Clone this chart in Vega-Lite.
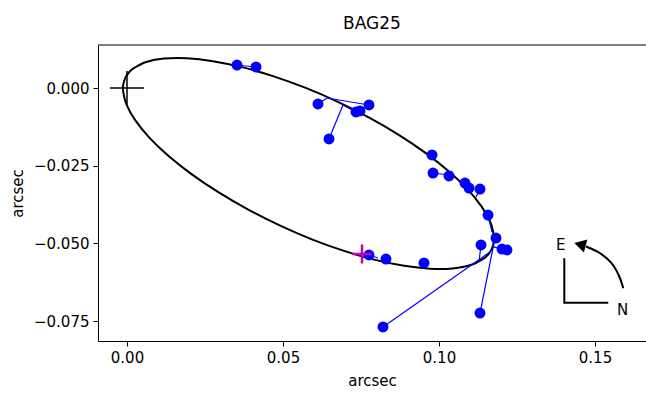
{
  "$schema": "https://vega.github.io/schema/vega-lite/v6.json",
  "autosize": "none",
  "padding": {"left": 98, "top": 45, "right": 0, "bottom": 52},
  "width": 548,
  "height": 296,
  "background": "white",
  "title": {"text": "BAG25", "font": "DejaVu Sans", "fontSize": 17, "fontWeight": "normal", "color": "black", "anchor": "middle", "offset": 12},
  "config": {
    "view": {"stroke": null},
    "axis": {"domainColor": "black", "domainWidth": 1, "tickColor": "black", "tickWidth": 1, "tickSize": 5, "labelFont": "DejaVu Sans", "labelFontSize": 15, "labelColor": "black", "titleFont": "DejaVu Sans", "titleFontSize": 15, "titleFontWeight": "normal", "titleColor": "black", "grid": false, "labelPadding": 4}
  },
  "datasets": {
    "orbit": [
      {"i": 0, "x": 0.11691, "y": -0.05180}, {"i": 1, "x": 0.11588, "y": -0.05343}, {"i": 2, "x": 0.11441, "y": -0.05484},
      {"i": 3, "x": 0.11020, "y": -0.05696}, {"i": 4, "x": 0.10441, "y": -0.05808}, {"i": 5, "x": 0.09722, "y": -0.05818},
      {"i": 6, "x": 0.08884, "y": -0.05724}, {"i": 7, "x": 0.07953, "y": -0.05531}, {"i": 8, "x": 0.06957, "y": -0.05243},
      {"i": 9, "x": 0.05926, "y": -0.04870}, {"i": 10, "x": 0.04892, "y": -0.04422}, {"i": 11, "x": 0.03887, "y": -0.03914},
      {"i": 12, "x": 0.02939, "y": -0.03361}, {"i": 13, "x": 0.02079, "y": -0.02780}, {"i": 14, "x": 0.01333, "y": -0.02188},
      {"i": 15, "x": 0.00723, "y": -0.01604}, {"i": 16, "x": 0.00268, "y": -0.01044}, {"i": 17, "x": -0.00018, "y": -0.00527},
      {"i": 18, "x": -0.00128, "y": -0.00068}, {"i": 19, "x": -0.00114, "y": 0.00136}, {"i": 20, "x": -0.00056, "y": 0.00320},
      {"i": 21, "x": 0.00047, "y": 0.00483}, {"i": 22, "x": 0.00194, "y": 0.00624}, {"i": 23, "x": 0.00614, "y": 0.00836},
      {"i": 24, "x": 0.01193, "y": 0.00948}, {"i": 25, "x": 0.01913, "y": 0.00958}, {"i": 26, "x": 0.02751, "y": 0.00864},
      {"i": 27, "x": 0.03681, "y": 0.00671}, {"i": 28, "x": 0.04678, "y": 0.00383}, {"i": 29, "x": 0.05708, "y": 0.00010},
      {"i": 30, "x": 0.06742, "y": -0.00438}, {"i": 31, "x": 0.07748, "y": -0.00946}, {"i": 32, "x": 0.08696, "y": -0.01499},
      {"i": 33, "x": 0.09555, "y": -0.02080}, {"i": 34, "x": 0.10301, "y": -0.02672}, {"i": 35, "x": 0.10911, "y": -0.03256},
      {"i": 36, "x": 0.11366, "y": -0.03816}, {"i": 37, "x": 0.11653, "y": -0.04333}, {"i": 38, "x": 0.11762, "y": -0.04792},
      {"i": 39, "x": 0.11749, "y": -0.04996}
    ],
    "obs": [
      {"x": 0.03526, "y": 0.00740, "x2": 0.03814, "y2": 0.00708},
      {"x": 0.04135, "y": 0.00676, "x2": 0.03814, "y2": 0.00708},
      {"x": 0.09776, "y": -0.02156, "x2": 0.09647, "y2": -0.02092},
      {"x": 0.09808, "y": -0.02736, "x2": 0.10321, "y2": -0.02800},
      {"x": 0.10321, "y": -0.02832, "x2": 0.10417, "y2": -0.02671},
      {"x": 0.10833, "y": -0.03058, "x2": 0.10833, "y2": -0.03025},
      {"x": 0.10962, "y": -0.03219, "x2": 0.10929, "y2": -0.03154},
      {"x": 0.11314, "y": -0.03251, "x2": 0.11186, "y2": -0.03508},
      {"x": 0.11571, "y": -0.04088, "x2": 0.11699, "y2": -0.04635},
      {"x": 0.11827, "y": -0.04828, "x2": 0.11763, "y2": -0.04892},
      {"x": 0.11346, "y": -0.05053, "x2": 0.11282, "y2": -0.05600},
      {"x": 0.12019, "y": -0.05182, "x2": 0.11763, "y2": -0.05118},
      {"x": 0.12179, "y": -0.05214, "x2": 0.11763, "y2": -0.05118},
      {"x": 0.07756, "y": -0.05375, "x2": 0.08045, "y2": -0.05471},
      {"x": 0.08301, "y": -0.05504, "x2": 0.08269, "y2": -0.05504},
      {"x": 0.09519, "y": -0.05632, "x2": 0.09551, "y2": -0.05761},
      {"x": 0.08205, "y": -0.07692, "x2": 0.11635, "y2": -0.05278},
      {"x": 0.11314, "y": -0.07242, "x2": 0.11763, "y2": -0.04989},
      {"x": 0.06122, "y": -0.00515, "x2": 0.06410, "y2": -0.00322},
      {"x": 0.07756, "y": -0.00547, "x2": 0.06410, "y2": -0.00322},
      {"x": 0.07340, "y": -0.00772, "x2": 0.06923, "y2": -0.00547},
      {"x": 0.07468, "y": -0.00740, "x2": 0.07532, "y2": -0.00708},
      {"x": 0.06474, "y": -0.01641, "x2": 0.06923, "y2": -0.00547}
    ],
    "origin": [{"x": 0, "y": 0}],
    "current": [{"x": 0.07532, "y": -0.05343}],
    "compassL": [
      {"i": 0, "x": 0.14016, "y": -0.05481},
      {"i": 1, "x": 0.14016, "y": -0.06910},
      {"i": 2, "x": 0.15426, "y": -0.06910}
    ],
    "compassArc": [
      {"i": 0, "x": 0.15907, "y": -0.06447},
      {"i": 1, "x": 0.15785, "y": -0.06083},
      {"i": 2, "x": 0.15609, "y": -0.05745},
      {"i": 3, "x": 0.15375, "y": -0.05481},
      {"i": 4, "x": 0.15064, "y": -0.05262},
      {"i": 5, "x": 0.14712, "y": -0.05101}
    ],
    "arrowHead": [{"x": 0.14519, "y": -0.05037}],
    "compassText": [
      {"x": 0.13901, "y": -0.05053, "label": "E"},
      {"x": 0.15888, "y": -0.07145, "label": "N"}
    ]
  },
  "encoding": {
    "x": {"field": "x", "type": "quantitative",
          "scale": {"domain": [-0.009295, 0.166346], "nice": false, "zero": false},
          "axis": {"title": "arcsec", "values": [0, 0.05, 0.1, 0.15], "format": ".2f", "titlePadding": 8}},
    "y": {"field": "y", "type": "quantitative",
          "scale": {"domain": [-0.081429, 0.01384], "nice": false, "zero": false},
          "axis": {"title": "arcsec", "values": [0, -0.025, -0.05, -0.075], "format": ".3f", "titlePadding": 8}}
  },
  "layer": [
    {"data": {"name": "orbit"}, "mark": {"type": "line", "color": "black", "strokeWidth": 2, "interpolate": "cardinal-closed"},
     "encoding": {"order": {"field": "i", "type": "quantitative"}}},
    {"data": {"name": "obs"}, "mark": {"type": "rule", "color": "#0000ff", "strokeWidth": 1.2},
     "encoding": {"x2": {"field": "x2"}, "y2": {"field": "y2"}}},
    {"data": {"name": "obs"}, "mark": {"type": "point", "filled": true, "color": "#0000ff", "opacity": 1, "size": 120, "shape": "circle"}},
    {"data": {"name": "origin"}, "mark": {"type": "point", "shape": "M-1,0H1M0,-1V1", "filled": false, "color": "black", "opacity": 1, "strokeWidth": 1.5, "size": 1156}},
    {"data": {"name": "current"}, "mark": {"type": "point", "shape": "M-1,0H1M0,-1V1", "filled": false, "color": "#bf00bf", "opacity": 1, "strokeWidth": 2.5, "size": 361}},
    {"data": {"name": "origin"}, "mark": {"type": "rule", "color": "black", "strokeWidth": 1},
     "encoding": {"x": {"datum": -0.009295}, "x2": {"datum": 0.166346}, "y": {"datum": 0.01384}}},
    {"data": {"name": "compassL"}, "mark": {"type": "line", "color": "black", "strokeWidth": 2},
     "encoding": {"order": {"field": "i", "type": "quantitative"}}},
    {"data": {"name": "compassArc"}, "mark": {"type": "line", "color": "black", "strokeWidth": 2, "interpolate": "cardinal"},
     "encoding": {"order": {"field": "i", "type": "quantitative"}}},
    {"data": {"name": "arrowHead"}, "mark": {"type": "point", "shape": "triangle-left", "filled": true, "color": "black", "opacity": 1, "size": 180, "angle": 15}},
    {"data": {"name": "compassText"}, "mark": {"type": "text", "font": "DejaVu Sans", "fontSize": 15, "color": "black", "align": "center", "baseline": "middle"},
     "encoding": {"text": {"field": "label"}}}
  ]
}
